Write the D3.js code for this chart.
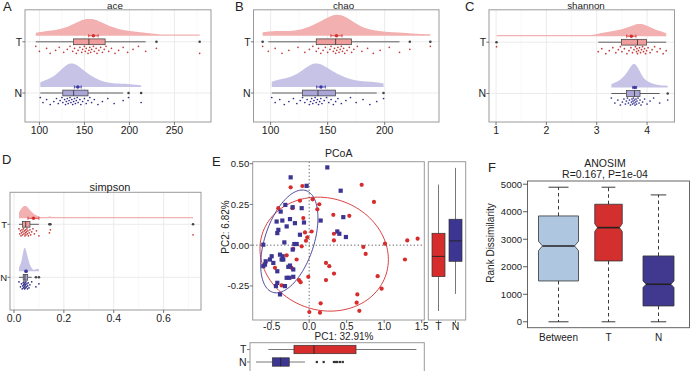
<!DOCTYPE html>
<html><head><meta charset="utf-8">
<script src="https://cdn.jsdelivr.net/npm/d3@7"></script>
<style>
body{margin:0;background:#fff}
svg{display:block}
text{font-family:"Liberation Sans",Arial,Helvetica,sans-serif;fill:#222}
</style>
</head><body>
<script>
// ================= DATA =================
const groups = ["T","N"];

// alpha diversity values per sample
const aceT = [96,100,108,112,118,122,127,131,134,137,139,141,143,145,147,148,150,151,152,154,155,156,157,158,160,161,163,164,166,168,170,172,174,177,180,184,188,193,198,204,210,218,230,278];
const aceN = [101,104,108,112,116,119,121,123,125,126,128,129,130,131,132,133,134,135,136,137,138,139,140,141,142,143,145,146,148,150,152,154,156,158,161,165,170,176,183,193,199,213];
const chaoT = [93,98,104,110,116,124,130,134,137,140,142,144,146,148,150,152,153,155,156,157,158,159,160,161,162,163,164,165,167,169,171,173,176,180,185,190,196,204,213,222,240];
const chaoN = [101,104,108,112,116,120,123,126,128,130,132,134,135,136,137,138,139,140,141,142,143,144,145,147,149,151,153,155,157,159,162,166,170,175,181,187,193,199];
const shannonT = [1.01,3.03,3.10,3.18,3.25,3.32,3.38,3.43,3.47,3.50,3.55,3.60,3.64,3.68,3.71,3.74,3.77,3.79,3.80,3.81,3.83,3.85,3.87,3.89,3.91,3.93,3.95,3.97,3.99,4.02,4.06,4.10,4.15,4.20,4.26,4.32,4.38];
const shannonN = [3.29,3.36,3.42,3.47,3.51,3.54,3.57,3.59,3.61,3.63,3.65,3.67,3.69,3.70,3.71,3.72,3.73,3.74,3.75,3.76,3.77,3.78,3.79,3.80,3.82,3.84,3.86,3.88,3.91,3.95,4.00,4.06,4.13,4.25,4.41];
const simpsonT = [0.020,0.023,0.026,0.028,0.030,0.032,0.034,0.036,0.038,0.040,0.042,0.044,0.046,0.047,0.048,0.050,0.052,0.054,0.056,0.058,0.061,0.064,0.067,0.071,0.076,0.082,0.090,0.100,0.142,0.146,0.718];
const simpsonN = [0.020,0.026,0.030,0.033,0.035,0.037,0.038,0.039,0.040,0.041,0.042,0.043,0.044,0.045,0.046,0.047,0.048,0.050,0.052,0.054,0.055,0.057,0.060,0.064,0.071,0.088,0.100];

// box stats: [lower whisker, Q1, median, Q3, upper whisker]
const aceBoxT = [96,138,155,173,218];
const aceBoxN = [101,126,138,154,193];
const chaoBoxT = [98,140,157,171,213];
const chaoBoxN = [101,128,141.5,157,193];
const shannonBoxT = [3.03,3.49,3.81,3.99,4.38];
const shannonBoxN = [3.29,3.59,3.75,3.86,4.25];
const simpsonBoxT = [0.02,0.034,0.047,0.064,0.10];
const simpsonBoxN = [0.02,0.037,0.044,0.055,0.071];

// tick labels
const aceTicks = [100,150,200,250];
const chaoTicks = [100,150,200];
const shannonTicks = [1,2,3,4];
const simpsonTicks = [0,0.2,0.4,0.6];

// PCoA coordinates [PC1, PC2]
const pcoaT = [[-0.091,0.363],[-0.247,0.355],[0.7,0.37],[0.046,0.281],[0.135,0.251],[0.864,0.265],[-0.412,0.227],[-0.123,0.273],[0.322,0.186],[0.535,0.18],[-0.056,0.078],[0.033,0.084],[-0.025,0.048],[-0.043,0.027],[0.33,0.029],[1.011,0.009],[1.308,0.029],[1.446,0.04],[0.722,-0.011],[0.753,-0.054],[-0.212,-0.023],[-0.3,-0.062],[-0.456,-0.139],[0.224,-0.109],[0.268,-0.129],[1.277,-0.088],[0.331,-0.174],[-0.012,-0.194],[0.224,-0.214],[-0.136,-0.214],[-0.114,-0.227],[0.913,-0.19],[0.966,-0.267],[0.642,-0.302],[0.633,-0.353],[0.669,-0.403],[0.153,-0.357],[0.002,-0.41],[0.144,-0.414],[-0.367,-0.247],[-0.078,0.166],[-0.167,-0.088],[-0.234,-0.139],[-0.1,-0.007],[0.109,0.22],[-0.224,0.227],[0.33,0.07]];
const pcoaN = [[0.242,0.477],[-0.247,0.416],[-0.034,0.364],[0.42,0.334],[-0.318,0.247],[-0.22,0.233],[-0.1,0.227],[-0.434,0.145],[-0.358,0.151],[-0.256,0.16],[-0.19,0.135],[-0.069,0.139],[0.153,0.151],[0.455,0.172],[0.375,0.084],[0.402,0.07],[0.49,0.05],[-0.411,0.094],[-0.425,0.074],[-0.331,0.017],[-0.198,0.007],[-0.167,0.007],[-0.612,0.003],[-0.22,-0.027],[-0.389,-0.058],[-0.354,-0.068],[-0.367,-0.088],[-0.5,-0.068],[-0.58,-0.099],[-0.612,-0.129],[-0.589,-0.119],[-0.478,-0.109],[-0.256,-0.125],[-0.278,-0.133],[-0.425,-0.16],[-0.212,-0.149],[-0.3,-0.2],[-0.265,-0.2],[-0.212,-0.194],[-0.425,-0.231],[-0.443,-0.251],[-0.323,-0.251],[-0.389,-0.302],[-0.345,-0.088],[-0.523,-0.088],[-0.123,0.064],[-0.3,0.115],[-0.38,0.206]];
// confidence ellipses: [cx, cy, ax, ay, bx, by] (conjugate semi-axes, data units)
const ellipseT = [0.2,-0.055,0.856,-0.033,0,0.348];
const ellipseN = [-0.265,0.023,0.382,0.143,0,0.281];
// marginal boxplots [lo, Q1, med, Q3, hi]
const pc1BoxT = [-0.477,-0.144,0.116,0.662,1.446];
const pc1BoxN = [-0.637,-0.425,-0.316,-0.205,-0.001];
const pc2BoxT = [-0.404,-0.193,-0.069,0.073,0.372];
const pc2BoxN = [-0.299,-0.099,0.026,0.159,0.474];
const pcoaXTicks = [-0.5,0,0.5,1,1.5];
const pcoaYTicks = [-0.25,0,0.25,0.5];
const pc1Label = "PC1: 32.91%";
const pc2Label = "PC2: 6.82%";

// ANOSIM
const anosimGroups = ["Between","T","N"];
const anosimBox = [[0,1484,2756,3847,4891],[0,2211,3422,4272,4891],[0,575,1364,2393,4611]];
const anosimNotch = [170,145,120];
const anosimTicks = [0,1000,2000,3000,4000,5000];
const anosimTitle = ["ANOSIM","R=0.167, P=1e-04"];

// ================= DRAWING =================
const svg = d3.select("body").append("svg").attr("width",692).attr("height",371);
const colors = {
  T:{dens:"#F3B0B0", box:"#EE9C9C", dot:"#C43A3A", mean:"#D42E2E", pc:"#D62C2C"},
  N:{dens:"#C6C3E6", box:"#A9A5D7", dot:"#2E2B86", mean:"#3A36A2", pc:"#3D3592"}
};
const anosimColors = ["#AFC6E0","#D42F2F","#41398F"];
const frameCol = "#9a9a9a", gridCol = "#ebebeb", tickCol = "#555";

function text(g,x,y,s,size,anchor,extra){
  const t = g.append("text").attr("x",x).attr("y",y).attr("font-size",size)
    .attr("text-anchor",anchor||"start").text(s);
  if(extra) extra(t);
  return t;
}
function nrd0(v){
  const s=[...v].sort(d3.ascending);
  const sd=d3.deviation(s);
  const iqr=d3.quantile(s,0.75)-d3.quantile(s,0.25);
  let lo=Math.min(sd,iqr/1.34); if(!(lo>0)) lo=sd;
  return 0.9*lo*Math.pow(s.length,-0.2);
}
function kde(v){
  const bw=nrd0(v), mn=d3.min(v), mx=d3.max(v);
  return d3.range(240).map(i=>{
    const g=mn+(mx-mn)*i/239;
    return [g, d3.mean(v,x=>Math.exp(-0.5*((g-x)/bw)**2))/(bw*Math.sqrt(2*Math.PI))];
  });
}

const rainLayout = [
  {letter:"A",lx:3,ly:11,title:"ace",tx:115,ty:9.2,ts:9.8,x0:25,x1:211,y0:9.8,y1:122,yT:41.8,yN:93,domain:[84,290.6],ticks:aceTicks,T:aceT,N:aceN,bT:aceBoxT,bN:aceBoxN,fmt:d=>String(d),ls:10.5},
  {letter:"B",lx:235,ly:11,title:"chao",tx:343.5,ty:9.2,ts:9.8,x0:253.5,x1:439,y0:9.8,y1:122,yT:41.8,yN:93,domain:[85,247.6],ticks:chaoTicks,T:chaoT,N:chaoN,bT:chaoBoxT,bN:chaoBoxN,fmt:d=>String(d),ls:10.5},
  {letter:"C",lx:465,ly:11,title:"shannon",tx:586,ty:9.2,ts:9.8,x0:489,x1:674.5,y0:9.8,y1:122,yT:42.2,yN:93.5,domain:[0.86,4.545],ticks:shannonTicks,T:shannonT,N:shannonN,bT:shannonBoxT,bN:shannonBoxN,fmt:d=>String(d),ls:10.5},
  {letter:"D",lx:2,ly:164,title:"simpson",tx:110,ty:190.5,ts:11,x0:10,x1:201,y0:192.3,y1:310,yT:224.3,yN:277.3,domain:[-0.016,0.75],ticks:simpsonTicks,T:simpsonT,N:simpsonN,bT:simpsonBoxT,bN:simpsonBoxN,fmt:d=>d.toFixed(1),ls:9.5}
];

rainLayout.forEach(c=>{
  const g = svg.append("g");
  const x = d3.scaleLinear().domain(c.domain).range([c.x0,c.x1]);
  const yc = {T:c.yT, N:c.yN};
  const data = {T:c.T, N:c.N};
  const box = {T:c.bT, N:c.bN};
  const step = c.ticks[1]-c.ticks[0];
  const minors = c.ticks.map(t=>t-step/2).concat([c.ticks[c.ticks.length-1]+step/2])
      .filter(v=>v>c.domain[0]&&v<c.domain[1]);
  g.selectAll(".mn").data(minors).enter().append("line")
    .attr("x1",d=>x(d)).attr("x2",d=>x(d)).attr("y1",c.y0).attr("y2",c.y1)
    .attr("stroke","#f3f3f3").attr("stroke-width",0.6);
  g.selectAll(".mj").data(c.ticks).enter().append("line")
    .attr("x1",d=>x(d)).attr("x2",d=>x(d)).attr("y1",c.y0).attr("y2",c.y1)
    .attr("stroke",gridCol).attr("stroke-width",1);
  g.selectAll(".hz").data(groups).enter().append("line")
    .attr("x1",c.x0).attr("x2",c.x1).attr("y1",d=>yc[d]).attr("y2",d=>yc[d])
    .attr("stroke",gridCol).attr("stroke-width",1);
  const dens = {T:kde(data.T), N:kde(data.N)};
  const maxD = d3.max(groups, k=>d3.max(dens[k],p=>p[1]));
  const hs = d3.scaleLinear().domain([0,maxD]).range([0,23.5]);
  groups.forEach(k=>{
    const base = yc[k]-6;
    const area = d3.area().x(p=>x(p[0])).y0(base).y1(p=>base-Math.max(hs(p[1]),1.2)).curve(d3.curveBasis);
    g.append("path").attr("d",area(dens[k])).attr("fill",colors[k].dens).attr("stroke","none");
  });
  groups.forEach(k=>{
    const b = box[k], y = yc[k];
    g.append("line").attr("x1",x(b[0])).attr("x2",x(b[1])).attr("y1",y).attr("y2",y).attr("stroke","#3a3a3a").attr("stroke-width",0.8);
    g.append("line").attr("x1",x(b[3])).attr("x2",x(b[4])).attr("y1",y).attr("y2",y).attr("stroke","#3a3a3a").attr("stroke-width",0.8);
    g.append("rect").attr("x",x(b[1])).attr("width",x(b[3])-x(b[1])).attr("y",y-2.9).attr("height",5.8)
      .attr("fill",colors[k].box).attr("stroke","#3a3a3a").attr("stroke-width",0.7);
    g.append("line").attr("x1",x(b[2])).attr("x2",x(b[2])).attr("y1",y-2.9).attr("y2",y+2.9).attr("stroke","#3a3a3a").attr("stroke-width",0.9);
    const outs = data[k].filter(v=>v<b[0]||v>b[4]);
    g.selectAll(null).data(outs).enter().append("circle")
      .attr("cx",d=>x(d)).attr("cy",y).attr("r",1.3).attr("fill","#444");
    g.selectAll(null).data(data[k]).enter().append("circle")
      .attr("cx",d=>x(d)).attr("cy",(d,i)=>y+4.5+((i*5)%8)*1.0).attr("r",0.85).attr("fill",colors[k].dot);
    const m = d3.mean(data[k]), se = d3.deviation(data[k])/Math.sqrt(data[k].length);
    const ym = y-6;
    g.append("line").attr("x1",x(m-se)).attr("x2",x(m+se)).attr("y1",ym).attr("y2",ym).attr("stroke",colors[k].mean).attr("stroke-width",0.8);
    [m-se,m+se].forEach(v=>g.append("line").attr("x1",x(v)).attr("x2",x(v)).attr("y1",ym-1.6).attr("y2",ym+1.6).attr("stroke",colors[k].mean).attr("stroke-width",0.8));
    g.append("circle").attr("cx",x(m)).attr("cy",ym).attr("r",1.7).attr("fill",colors[k].mean);
  });
  g.append("rect").attr("x",c.x0).attr("y",c.y0).attr("width",c.x1-c.x0).attr("height",c.y1-c.y0)
    .attr("fill","none").attr("stroke",frameCol).attr("stroke-width",1);
  c.ticks.forEach(t=>{
    g.append("line").attr("x1",x(t)).attr("x2",x(t)).attr("y1",c.y1).attr("y2",c.y1+3).attr("stroke",tickCol).attr("stroke-width",0.8);
    text(g,x(t),c.y1+11.5,c.fmt(t),10.5,"middle");
  });
  groups.forEach(k=>{
    g.append("line").attr("x1",c.x0-2.6).attr("x2",c.x0).attr("y1",yc[k]).attr("y2",yc[k]).attr("stroke",tickCol).attr("stroke-width",0.8);
    text(g,c.x0-2.9,yc[k]+3.7,k,c.ls,"end");
  });
  text(g,c.tx,c.ty,c.title,c.ts,"middle");
  text(g,c.lx,c.ly,c.letter,13,"start");
});

// ---------- E: PCoA ----------
(function(){
  const g = svg.append("g");
  const P = {x0:252.7,x1:424.3,y0:161.7,y1:320};
  const sx = d3.scaleLinear().domain([-0.753,1.535]).range([P.x0,P.x1]);
  const sy = d3.scaleLinear().domain([-0.459,0.512]).range([P.y1,P.y0]);
  [[ellipseT,"T"],[ellipseN,"N"]].forEach(([e,k])=>{
    const pts = d3.range(0,361,3).map(a=>{const t=a*Math.PI/180;
      return [e[0]+e[2]*Math.cos(t)+e[4]*Math.sin(t), e[1]+e[3]*Math.cos(t)+e[5]*Math.sin(t)];});
    g.append("path").attr("d",d3.line().x(p=>sx(p[0])).y(p=>sy(p[1]))(pts))
      .attr("fill","none").attr("stroke",colors[k].pc).attr("stroke-width",0.9);
  });
  g.append("line").attr("x1",sx(0)).attr("x2",sx(0)).attr("y1",P.y0).attr("y2",P.y1)
    .attr("stroke","#444").attr("stroke-width",0.9).attr("stroke-dasharray","1.2,2.3");
  g.append("line").attr("x1",P.x0).attr("x2",P.x1).attr("y1",sy(0)).attr("y2",sy(0))
    .attr("stroke","#444").attr("stroke-width",0.9).attr("stroke-dasharray","1.2,2.3");
  g.selectAll(null).data(pcoaT).enter().append("circle")
    .attr("cx",d=>sx(d[0])).attr("cy",d=>sy(d[1])).attr("r",2.1).attr("fill",colors.T.pc);
  g.selectAll(null).data(pcoaN).enter().append("rect")
    .attr("x",d=>sx(d[0])-2.1).attr("y",d=>sy(d[1])-2.1).attr("width",4.2).attr("height",4.2).attr("fill",colors.N.pc);
  g.append("rect").attr("x",P.x0).attr("y",P.y0).attr("width",P.x1-P.x0).attr("height",P.y1-P.y0)
    .attr("fill","none").attr("stroke",frameCol).attr("stroke-width",1);
  pcoaXTicks.forEach(t=>{
    g.append("line").attr("x1",sx(t)).attr("x2",sx(t)).attr("y1",P.y1).attr("y2",P.y1+3).attr("stroke",tickCol).attr("stroke-width",0.8);
    text(g,sx(t),P.y1+9.5,t.toFixed(1),10,"middle");
  });
  pcoaYTicks.forEach(t=>{
    g.append("line").attr("x1",P.x0-3).attr("x2",P.x0).attr("y1",sy(t)).attr("y2",sy(t)).attr("stroke",tickCol).attr("stroke-width",0.8);
    text(g,P.x0-3.5,sy(t)+3.4,t.toFixed(2),9.5,"end");
  });
  text(g,338.7,156.5,"PCoA",10.5,"middle");
  text(g,344,339.5,pc1Label,10,"middle");
  text(g,0,0,pc2Label,10,"middle",t=>t.attr("transform","translate(228.5,227) rotate(-90)"));
  text(g,212,165.5,"E",13,"start");

  const R = {x0:428.3,x1:465.7};
  const rx = d3.scalePoint().domain(groups).range([438.5,455.5]);
  const rb = {T:pc2BoxT,N:pc2BoxN};
  groups.forEach(k=>{
    const b=rb[k], cx=rx(k), hw=6.5;
    g.append("line").attr("x1",cx).attr("x2",cx).attr("y1",sy(b[0])).attr("y2",sy(b[4])).attr("stroke","#555").attr("stroke-width",0.8);
    g.append("rect").attr("x",cx-hw).attr("width",2*hw).attr("y",sy(b[3])).attr("height",sy(b[1])-sy(b[3]))
      .attr("fill",colors[k].pc).attr("stroke","#333").attr("stroke-width",0.7);
    g.append("line").attr("x1",cx-hw).attr("x2",cx+hw).attr("y1",sy(b[2])).attr("y2",sy(b[2])).attr("stroke","#222").attr("stroke-width",0.9);
    g.append("line").attr("x1",cx).attr("x2",cx).attr("y1",P.y1).attr("y2",P.y1+3).attr("stroke",tickCol).attr("stroke-width",0.8);
    text(g,cx,P.y1+9.5,k,10.5,"middle");
  });
  g.append("rect").attr("x",R.x0).attr("y",P.y0).attr("width",R.x1-R.x0).attr("height",P.y1-P.y0)
    .attr("fill","none").attr("stroke",frameCol).attr("stroke-width",1);

  const B = {x0:250,x1:424.3,y0:342.7,y1:376};
  const bx = d3.scaleLinear().domain([-0.715,1.549]).range([B.x0,B.x1]);
  const by = d3.scalePoint().domain(groups).range([349.5,362]);
  const bb = {T:pc1BoxT,N:pc1BoxN};
  const bdat = {T:pcoaT, N:pcoaN};
  groups.forEach(k=>{
    const b=bb[k], cy=by(k), hh=4.2;
    g.append("line").attr("x1",bx(b[0])).attr("x2",bx(b[4])).attr("y1",cy).attr("y2",cy).attr("stroke","#555").attr("stroke-width",0.8);
    g.append("rect").attr("x",bx(b[1])).attr("width",bx(b[3])-bx(b[1])).attr("y",cy-hh).attr("height",2*hh)
      .attr("fill",colors[k].pc).attr("stroke","#333").attr("stroke-width",0.7);
    g.append("line").attr("x1",bx(b[2])).attr("x2",bx(b[2])).attr("y1",cy-hh).attr("y2",cy+hh).attr("stroke","#222").attr("stroke-width",0.9);
    const outs = bdat[k].map(p=>p[0]).filter(v=>v<b[0]||v>b[4]);
    g.selectAll(null).data(outs).enter().append("rect")
      .attr("x",d=>bx(d)-1.1).attr("y",cy-1.1).attr("width",2.2).attr("height",2.2).attr("fill","#333");
    g.append("line").attr("x1",B.x0-3).attr("x2",B.x0).attr("y1",cy).attr("y2",cy).attr("stroke",tickCol).attr("stroke-width",0.8);
    text(g,B.x0-3.5,cy+3.6,k,10.5,"end");
  });
  g.append("rect").attr("x",B.x0).attr("y",B.y0).attr("width",B.x1-B.x0).attr("height",B.y1-B.y0)
    .attr("fill","none").attr("stroke",frameCol).attr("stroke-width",1);
})();

// ---------- F: ANOSIM ----------
(function(){
  const g = svg.append("g");
  const F = {x0:527.5,x1:689.5,y0:181,y1:327.7};
  const fx = d3.scaleLinear().domain([0.38,3.62]).range([F.x0,F.x1]);
  const fy = d3.scaleLinear().domain([-215,5117]).range([F.y1,F.y0]);
  const widths = [40,27.5,31];
  anosimBox.forEach((b,i)=>{
    const cx=fx(i+1), w=widths[i], x0=cx-w/2, x1=cx+w/2, xn0=cx-w*0.4, xn1=cx+w*0.4;
    const n=anosimNotch[i];
    g.append("line").attr("x1",cx).attr("x2",cx).attr("y1",fy(b[3])).attr("y2",fy(b[4])).attr("stroke","#222").attr("stroke-width",0.9).attr("stroke-dasharray","3.5,3");
    g.append("line").attr("x1",cx).attr("x2",cx).attr("y1",fy(b[1])).attr("y2",fy(b[0])).attr("stroke","#222").attr("stroke-width",0.9).attr("stroke-dasharray","3.5,3");
    [b[0],b[4]].forEach(v=>g.append("line").attr("x1",cx-w/4).attr("x2",cx+w/4).attr("y1",fy(v)).attr("y2",fy(v)).attr("stroke","#222").attr("stroke-width",0.9));
    const path = `M${x0},${fy(b[3])}L${x1},${fy(b[3])}L${x1},${fy(b[2]+n)}L${xn1},${fy(b[2])}L${x1},${fy(b[2]-n)}L${x1},${fy(b[1])}L${x0},${fy(b[1])}L${x0},${fy(b[2]-n)}L${xn0},${fy(b[2])}L${x0},${fy(b[2]+n)}Z`;
    g.append("path").attr("d",path).attr("fill",anosimColors[i]).attr("stroke","#333").attr("stroke-width",0.8);
    g.append("line").attr("x1",xn0).attr("x2",xn1).attr("y1",fy(b[2])).attr("y2",fy(b[2])).attr("stroke","#222").attr("stroke-width",1.6);
    text(g,cx,340.5,anosimGroups[i],10,"middle");
  });
  g.append("rect").attr("x",F.x0).attr("y",F.y0).attr("width",F.x1-F.x0).attr("height",F.y1-F.y0)
    .attr("fill","none").attr("stroke","#555").attr("stroke-width",0.9);
  anosimTicks.forEach(t=>{
    g.append("line").attr("x1",F.x0-4.5).attr("x2",F.x0).attr("y1",fy(t)).attr("y2",fy(t)).attr("stroke","#333").attr("stroke-width",0.8);
    text(g,F.x0-5.5,fy(t)+3.4,String(t),9.5,"end");
  });
  text(g,0,0,"Rank Dissimilarity",10,"middle",t=>t.attr("transform","translate(494,243) rotate(-90)"));
  text(g,605,167,anosimTitle[0],10.5,"middle");
  text(g,605,177.5,anosimTitle[1],10.5,"middle");
  text(g,488,171.5,"F",13,"start");
})();
</script>
</body></html>
